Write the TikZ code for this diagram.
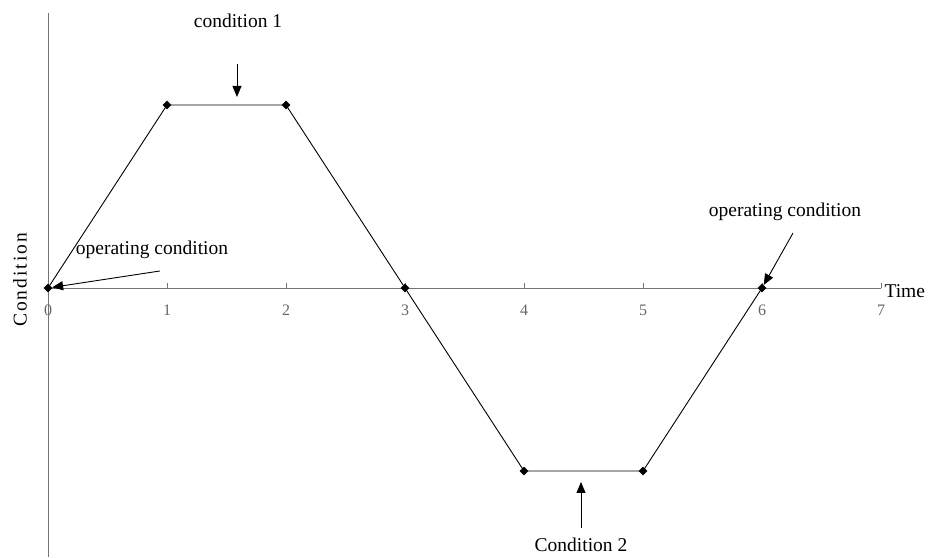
\documentclass[tikz,border=0pt]{standalone}
\usepackage{fontspec}
\setmainfont{Liberation Serif}
\usetikzlibrary{shapes.geometric,arrows.meta}
\begin{document}
\begin{tikzpicture}
[x=119pt,y=183pt,
  pointdecorate/.style={shape=diamond,fill=black,inner sep=0pt,minimum size=9pt},%
  axisdecorate/.style={draw=black!55,line width=0.8pt},%
  arrowdecorate/.style={-{Triangle[length=11pt,width=9pt]},line width=0.9pt},%
  labeldecorate/.style={font=\fontsize{19.5}{21}\selectfont},%
  ticklabel/.style={font=\fontsize{16}{17}\selectfont,text=black!60}]
\useasboundingbox (-48pt,-269pt) rectangle (880pt,288pt);
%% axes
\coordinate (ybottom) at (0,-1.47);
\coordinate (ytop) at (0,1.503);
\coordinate (xend) at (7,0);
\draw[axisdecorate] (ybottom) -- (ytop);
\draw[axisdecorate] (0,0) -- (xend);
\foreach \t in {0,...,7} {
  \ifnum\t>0 \draw[axisdecorate] (\t,0) -- ++(0,5pt); \fi
  \node[ticklabel] (tick\t) at (\t,-0.12) {\t};
}
\node[labeldecorate,anchor=west,yshift=-3.5pt] (timelabel) at (xend) {Time};
\node[labeldecorate,rotate=90] (condlabel) at (-0.235,0.044)
  {\addfontfeature{LetterSpace=10}Condition};
%% nodes or vertices
\foreach \nodename/\x/\y in {o/0/0, a/1/1, b/2/1, c/3/0, d/4/-1, e/5/-1, f/6/0} {
  \node (\nodename) at (\x,\y) [pointdecorate] {};
}
%% edges or lines
\draw[line width=0.9pt] (o.center) -- (a.center) -- (b.center) -- (c.center)
  -- (d.center) -- (e.center) -- (f.center);
%% notes
\node[labeldecorate] (cond1) at (1.597,1.459) {condition 1};
\node[labeldecorate] (cond2) at (4.479,-1.404) {Condition 2};
\node[labeldecorate] (opleft) at (0.874,0.208) {operating condition};
\node[labeldecorate] (opright) at (6.193,0.415) {operating condition};
\coordinate (cond1tail) at (1.588,1.224);
\coordinate (cond1tip) at (1.588,1.044);
\coordinate (cond2tail) at (4.479,-1.311);
\coordinate (cond2tip) at (4.479,-1.060);
\coordinate (oplefttail) at (0.941,0.093);
\coordinate (oprighttail) at (6.26,0.30);
\draw[arrowdecorate] (cond1tail) -- (cond1tip);
\draw[arrowdecorate] (cond2tail) -- (cond2tip);
\draw[arrowdecorate] (oplefttail) -- (o);
\draw[arrowdecorate] (oprighttail) -- (f);
\end{tikzpicture}
\end{document}
